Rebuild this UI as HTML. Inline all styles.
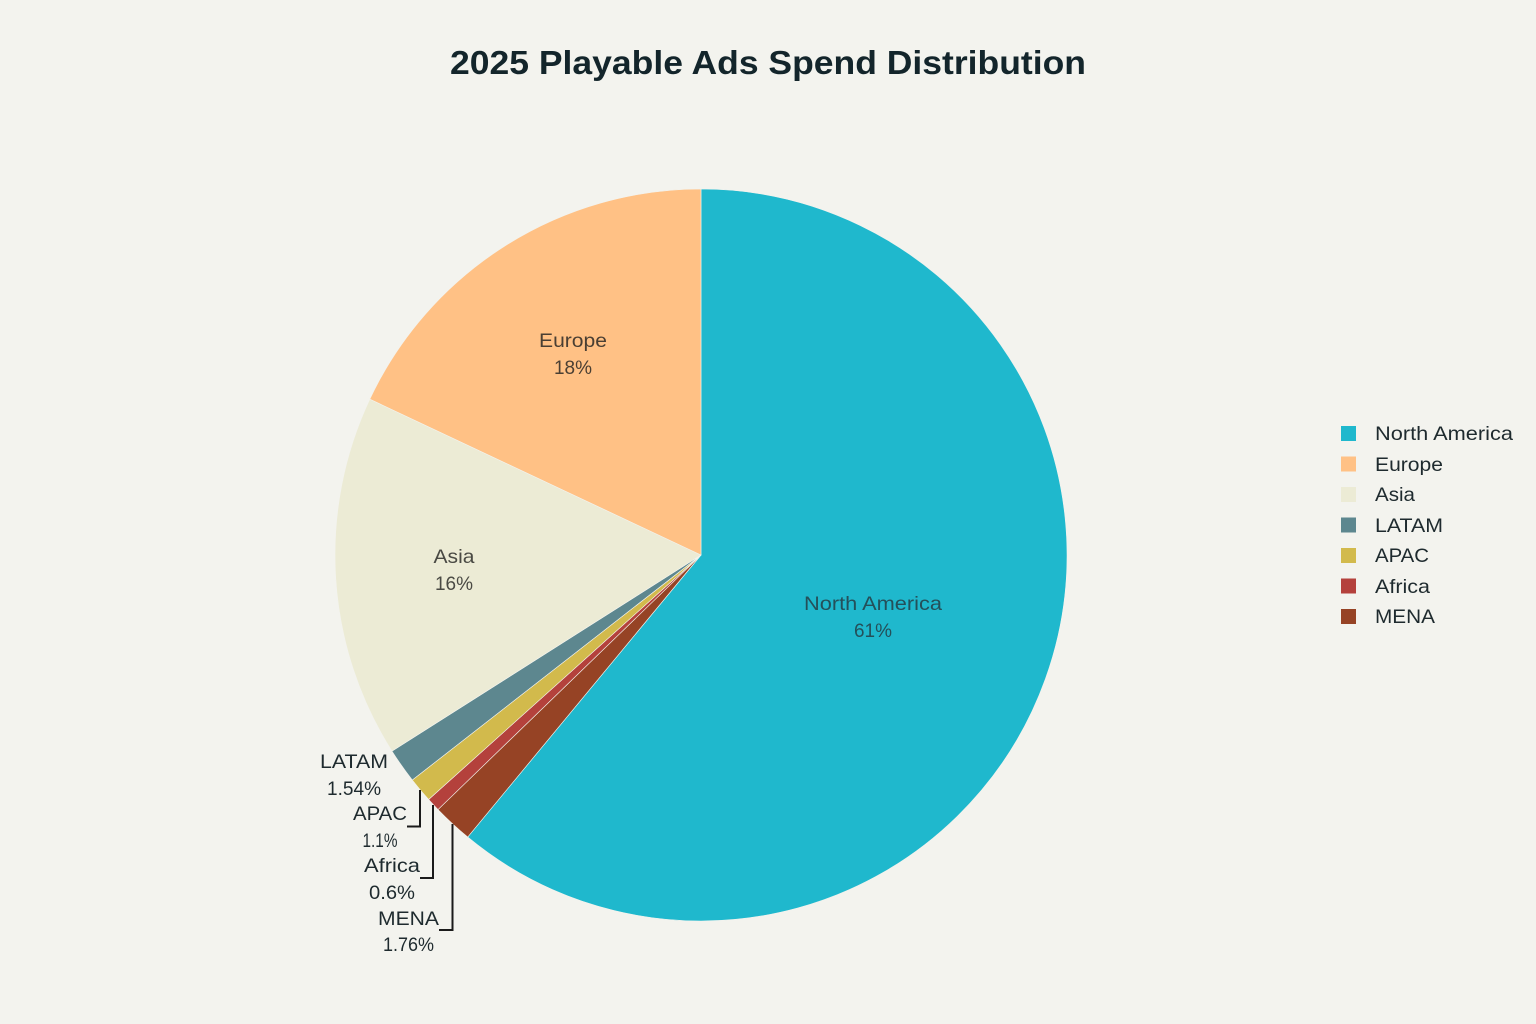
<!DOCTYPE html>
<html>
<head>
<meta charset="utf-8">
<style>
  html, body { margin: 0; padding: 0; background: #F3F3EE; }
  body { width: 1536px; height: 1024px; overflow: hidden; }
  svg { display: block; }
  text { font-family: "Liberation Sans", "DejaVu Sans", sans-serif; }
</style>
</head>
<body>
<svg width="1536" height="1024" viewBox="0 0 1536 1024" xmlns="http://www.w3.org/2000/svg">
  <rect x="0" y="0" width="1536" height="1024" fill="#F3F3EE"/>

  <!-- Title -->
  <text x="768" y="74" text-anchor="middle" font-size="33" font-weight="bold" fill="#13252B" textLength="636" lengthAdjust="spacingAndGlyphs">2025 Playable Ads Spend Distribution</text>

  <!-- Pie slices -->
  <g stroke="#F3F3EE" stroke-width="0.6" stroke-linejoin="round">
    <path d="M701,555 L701,189 A366,366 0 1 1 467.70,837.01 Z" fill="#1FB8CD"/>
    <path d="M701,555 L467.70,837.01 A366,366 0 0 1 438.01,809.54 Z" fill="#964325"/>
    <path d="M701,555 L438.01,809.54 A366,366 0 0 1 428.63,799.49 Z" fill="#B4413C"/>
    <path d="M701,555 L428.63,799.49 A366,366 0 0 1 412.32,780.00 Z" fill="#D2BA4C"/>
    <path d="M701,555 L412.32,780.00 A366,366 0 0 1 391.98,751.11 Z" fill="#5D878F"/>
    <path d="M701,555 L391.98,751.11 A366,366 0 0 1 369.83,399.16 Z" fill="#ECEBD5"/>
    <path d="M701,555 L369.83,399.16 A366,366 0 0 1 701,189 Z" fill="#FFC185"/>
  </g>

  <!-- Inside labels -->
  <g font-size="19.5" text-anchor="middle">
    <text x="873" y="610" fill="#24505A" textLength="138" lengthAdjust="spacingAndGlyphs">North America</text>
    <text x="873" y="637" fill="#24505A" textLength="38" lengthAdjust="spacingAndGlyphs">61%</text>
    <text x="573" y="347" fill="#4A3F33" textLength="68" lengthAdjust="spacingAndGlyphs">Europe</text>
    <text x="573" y="374" fill="#4A3F33" textLength="38" lengthAdjust="spacingAndGlyphs">18%</text>
    <text x="454" y="563" fill="#4A4A44" textLength="41" lengthAdjust="spacingAndGlyphs">Asia</text>
    <text x="454" y="590" fill="#4A4A44" textLength="38" lengthAdjust="spacingAndGlyphs">16%</text>
  </g>

  <!-- Outside labels -->
  <g font-size="19.5" text-anchor="middle" fill="#1E2A2E">
    <text x="354" y="768" textLength="68" lengthAdjust="spacingAndGlyphs">LATAM</text>
    <text x="354" y="795" textLength="54" lengthAdjust="spacingAndGlyphs">1.54%</text>
    <text x="380" y="820" textLength="54" lengthAdjust="spacingAndGlyphs">APAC</text>
    <text x="380" y="847" textLength="35" lengthAdjust="spacingAndGlyphs">1.1%</text>
    <text x="392" y="872" textLength="56" lengthAdjust="spacingAndGlyphs">Africa</text>
    <text x="392" y="899" textLength="46" lengthAdjust="spacingAndGlyphs">0.6%</text>
    <text x="408.5" y="925" textLength="61" lengthAdjust="spacingAndGlyphs">MENA</text>
    <text x="408.5" y="951" textLength="51" lengthAdjust="spacingAndGlyphs">1.76%</text>
  </g>

  <!-- Leader lines -->
  <g stroke="#1A1A1A" stroke-width="2" fill="none">
    <polyline points="420,790 420,826.5 407,826.5"/>
    <polyline points="433,805 433,878 420,878"/>
    <polyline points="452.5,824 452.5,930 439,930"/>
  </g>

  <!-- Legend -->
  <g>
    <rect x="1341" y="426" width="15" height="15" fill="#1FB8CD"/>
    <rect x="1341" y="456.5" width="15" height="15" fill="#FFC185"/>
    <rect x="1341" y="487" width="15" height="15" fill="#ECEBD5"/>
    <rect x="1341" y="517.5" width="15" height="15" fill="#5D878F"/>
    <rect x="1341" y="548" width="15" height="15" fill="#D2BA4C"/>
    <rect x="1341" y="578.5" width="15" height="15" fill="#B4413C"/>
    <rect x="1341" y="609" width="15" height="15" fill="#964325"/>
  </g>
  <g font-size="19.5" fill="#1E2A2E">
    <text x="1375" y="440" textLength="138" lengthAdjust="spacingAndGlyphs">North America</text>
    <text x="1375" y="471" textLength="68" lengthAdjust="spacingAndGlyphs">Europe</text>
    <text x="1375" y="501" textLength="40" lengthAdjust="spacingAndGlyphs">Asia</text>
    <text x="1375" y="532" textLength="68" lengthAdjust="spacingAndGlyphs">LATAM</text>
    <text x="1375" y="562" textLength="54" lengthAdjust="spacingAndGlyphs">APAC</text>
    <text x="1375" y="593" textLength="55" lengthAdjust="spacingAndGlyphs">Africa</text>
    <text x="1375" y="623" textLength="60" lengthAdjust="spacingAndGlyphs">MENA</text>
  </g>
</svg>
</body>
</html>
